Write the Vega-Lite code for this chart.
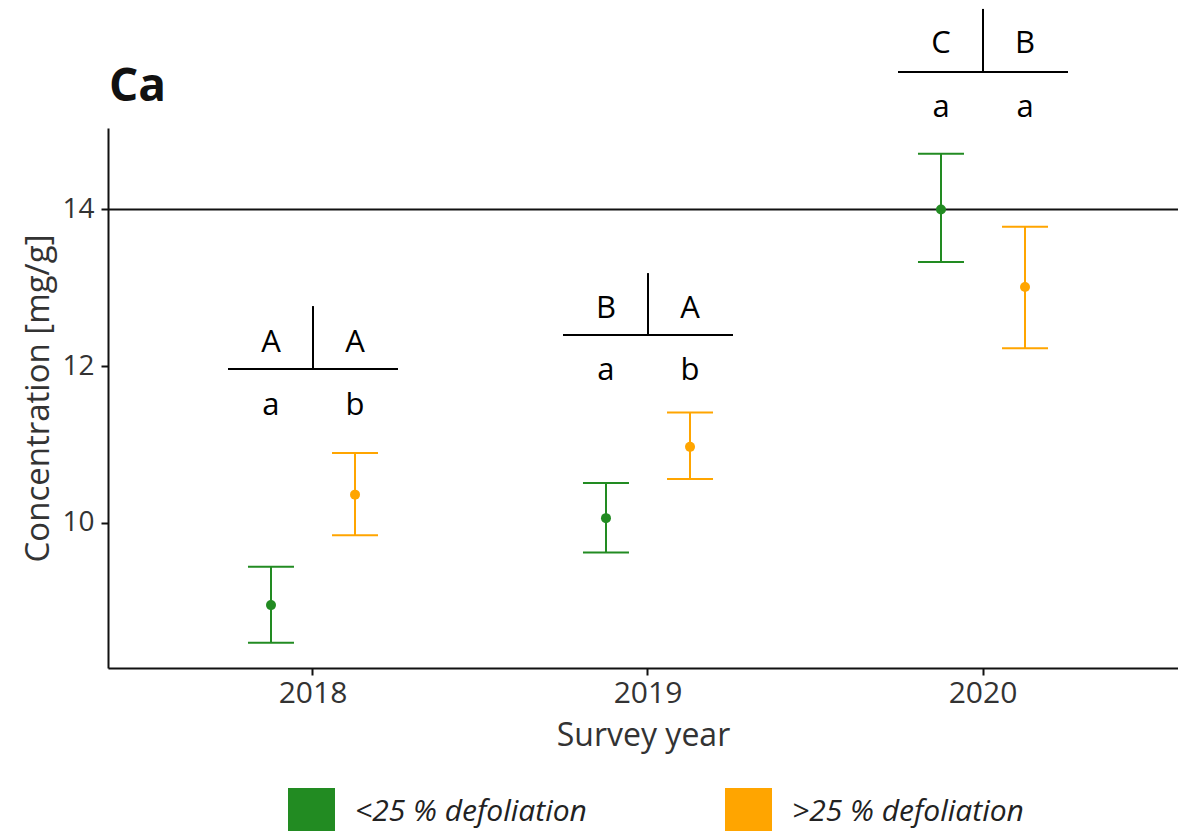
{
  "$schema": "https://vega.github.io/schema/vega-lite/v6.json",
  "width": 1070,
  "height": 540,
  "autosize": {"type": "none"},
  "padding": {"left": 108, "top": 128, "right": 0, "bottom": 163},
  "background": "white",
  "title": {"text": "Ca", "anchor": "start", "frame": "group", "fontSize": 46, "fontWeight": "bold", "font": "Open Sans", "color": "#111", "baseline": "alphabetic", "offset": -139, "dx": 1},
  "config": {"view": {"stroke": null}, "font": "Open Sans"},
  "datasets": {
    "stats": [
      {"year": "2018", "group": "<25 % defoliation", "mean": 8.95, "lower": 8.47, "upper": 9.44},
      {"year": "2018", "group": ">25 % defoliation", "mean": 10.36, "lower": 9.84, "upper": 10.89},
      {"year": "2019", "group": "<25 % defoliation", "mean": 10.06, "lower": 9.62, "upper": 10.51},
      {"year": "2019", "group": ">25 % defoliation", "mean": 10.97, "lower": 10.56, "upper": 11.41},
      {"year": "2020", "group": "<25 % defoliation", "mean": 14.0, "lower": 13.33, "upper": 14.71},
      {"year": "2020", "group": ">25 % defoliation", "mean": 13.01, "lower": 12.23, "upper": 13.78}
    ],
    "letters": [
      {"year": "2018", "group": "<25 % defoliation", "letter": "A", "level": 12.18},
      {"year": "2018", "group": ">25 % defoliation", "letter": "A", "level": 12.18},
      {"year": "2018", "group": "<25 % defoliation", "letter": "a", "level": 11.376},
      {"year": "2018", "group": ">25 % defoliation", "letter": "b", "level": 11.376},
      {"year": "2019", "group": "<25 % defoliation", "letter": "B", "level": 12.613},
      {"year": "2019", "group": ">25 % defoliation", "letter": "A", "level": 12.613},
      {"year": "2019", "group": "<25 % defoliation", "letter": "a", "level": 11.823},
      {"year": "2019", "group": ">25 % defoliation", "letter": "b", "level": 11.823},
      {"year": "2020", "group": "<25 % defoliation", "letter": "C", "level": 15.995},
      {"year": "2020", "group": ">25 % defoliation", "letter": "B", "level": 15.995},
      {"year": "2020", "group": "<25 % defoliation", "letter": "a", "level": 15.177},
      {"year": "2020", "group": ">25 % defoliation", "letter": "a", "level": 15.177}
    ],
    "brackets": [
      {"year": "2018", "hline": 11.963, "vtop": 12.767},
      {"year": "2019", "hline": 12.397, "vtop": 13.188},
      {"year": "2020", "hline": 15.754, "vtop": 16.56}
    ]
  },
  "layer": [
    {
      "data": {"values": [{"ref": 14}]},
      "mark": {"type": "rule", "color": "#111", "strokeWidth": 2},
      "encoding": {"y": {"field": "ref", "type": "quantitative"}}
    },
    {
      "data": {"name": "stats"},
      "mark": {"type": "circle", "size": 100, "opacity": 1},
      "encoding": {
        "x": {
          "field": "year", "type": "nominal",
          "scale": {"paddingInner": 0.403, "paddingOuter": 0.2985, "align": 0.525},
          "axis": {"title": "Survey year", "labelAngle": 0, "domainColor": "#111", "domainWidth": 2, "tickColor": "#111", "tickSize": 7, "tickWidth": 2, "labelFontSize": 30, "labelColor": "#333", "labelPadding": 3, "titleFontSize": 32, "titleFontWeight": "normal", "titleColor": "#333", "titlePadding": 12, "labelFont": "Open Sans", "titleFont": "Open Sans"}
        },
        "xOffset": {"field": "group", "type": "nominal", "scale": {"type": "point", "padding": 0.69}},
        "y": {
          "field": "mean", "type": "quantitative",
          "scale": {"domain": [8.147, 15.04], "nice": false, "zero": false},
          "axis": {"title": "Concentration [mg/g]", "values": [10, 12, 14], "format": "d", "grid": false, "domainColor": "#111", "domainWidth": 2, "tickColor": "#111", "tickSize": 7, "tickWidth": 2, "labelFontSize": 28, "labelColor": "#333", "labelPadding": 7, "titleFontSize": 33, "titleFontWeight": "normal", "titleColor": "#333", "titlePadding": 6, "labelFont": "Open Sans", "titleFont": "Open Sans"}
        },
        "color": {
          "field": "group", "type": "nominal",
          "scale": {"domain": ["<25 % defoliation", ">25 % defoliation"], "range": ["#228B22", "#FFA500"]},
          "legend": {"title": null, "orient": "none", "legendX": 180, "legendY": 660, "direction": "horizontal", "columns": 2, "columnPadding": 135, "symbolType": "square", "symbolSize": 2025, "symbolStrokeColor": "#3b7a2b", "symbolStrokeWidth": 2, "symbolOpacity": 1, "labelFontSize": 30, "labelFontStyle": "italic", "labelColor": "#222", "labelOffset": 20, "labelFont": "Open Sans", "padding": 0, "labelLimit": 400}
        }
      }
    },
    {
      "data": {"name": "stats"},
      "mark": {"type": "rule", "strokeWidth": 2},
      "encoding": {
        "x": {"field": "year", "type": "nominal"},
        "xOffset": {"field": "group", "type": "nominal"},
        "y": {"field": "lower", "type": "quantitative"},
        "y2": {"field": "upper"},
        "color": {"field": "group", "type": "nominal"}
      }
    },
    {
      "data": {"name": "stats"},
      "mark": {"type": "tick", "orient": "horizontal", "size": 46, "thickness": 2, "opacity": 1},
      "encoding": {
        "x": {"field": "year", "type": "nominal"},
        "xOffset": {"field": "group", "type": "nominal"},
        "y": {"field": "lower", "type": "quantitative"},
        "color": {"field": "group", "type": "nominal"}
      }
    },
    {
      "data": {"name": "stats"},
      "mark": {"type": "tick", "orient": "horizontal", "size": 46, "thickness": 2, "opacity": 1},
      "encoding": {
        "x": {"field": "year", "type": "nominal"},
        "xOffset": {"field": "group", "type": "nominal"},
        "y": {"field": "upper", "type": "quantitative"},
        "color": {"field": "group", "type": "nominal"}
      }
    },
    {
      "data": {"name": "letters"},
      "mark": {"type": "text", "fontSize": 31, "align": "center", "baseline": "alphabetic", "color": "#000", "font": "Open Sans"},
      "encoding": {
        "x": {"field": "year", "type": "nominal"},
        "xOffset": {"field": "group", "type": "nominal"},
        "y": {"field": "level", "type": "quantitative"},
        "text": {"field": "letter"}
      }
    },
    {
      "data": {"name": "brackets"},
      "mark": {"type": "tick", "orient": "horizontal", "size": 170, "thickness": 2, "color": "#000", "opacity": 1},
      "encoding": {
        "x": {"field": "year", "type": "nominal"},
        "y": {"field": "hline", "type": "quantitative"}
      }
    },
    {
      "data": {"name": "brackets"},
      "mark": {"type": "rule", "strokeWidth": 2, "color": "#000"},
      "encoding": {
        "x": {"field": "year", "type": "nominal"},
        "y": {"field": "hline", "type": "quantitative"},
        "y2": {"field": "vtop"}
      }
    }
  ]
}
